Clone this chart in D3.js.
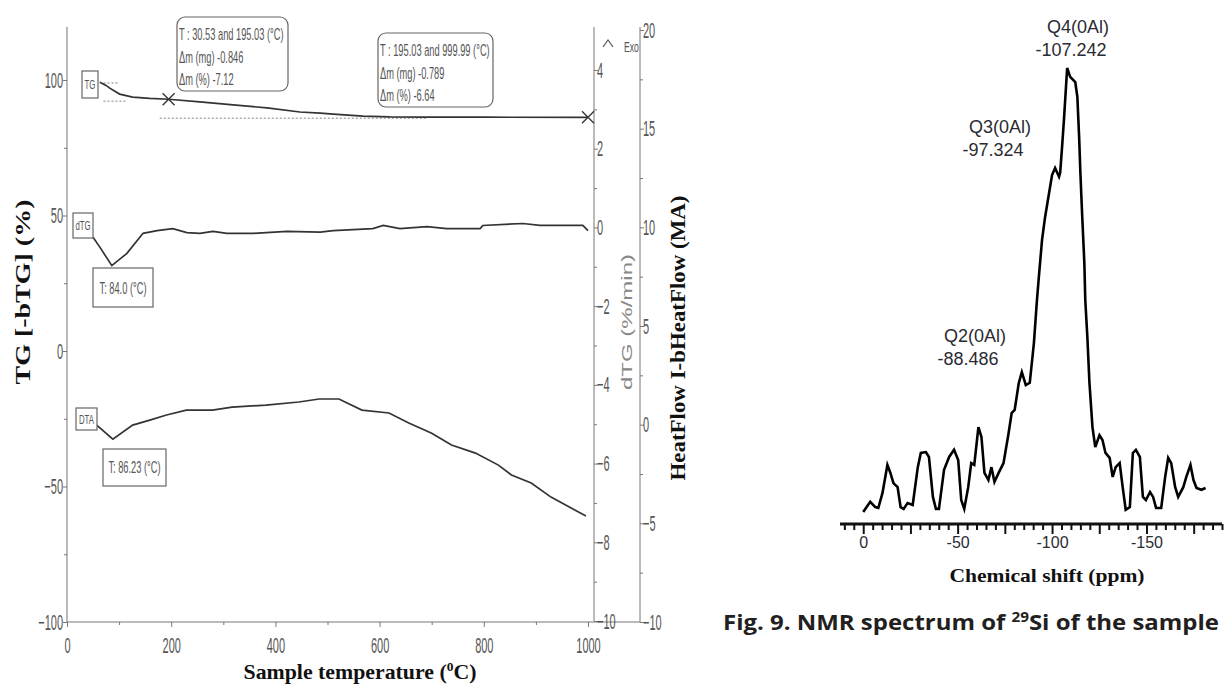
<!DOCTYPE html>
<html lang="en">
<head>
<meta charset="UTF-8" />
<title>TGA / DTA and 29Si NMR</title>
<style>
  body { margin: 0; background: #fff; }
  svg { display: block; }
  .tga text { font-family: "Liberation Sans", Arial, sans-serif; fill: #555; }
  .tga .domain, .tga .tick line { stroke: #777; }
  .curve { fill: none; stroke: #333; stroke-width: 1.7; }
  .nmr text { font-family: "Liberation Sans", Arial, sans-serif; fill: #2b2b33; }
  svg text.bold-serif { font-family: "Liberation Serif", "Times New Roman", serif; font-weight: bold; fill: #111; }
  svg text.caption { font-family: "Open Sans", "Noto Sans", sans-serif; font-weight: 700; fill: #231f20; }
</style>
</head>
<body>
<svg width="1224" height="684"></svg>
<script src="https://d3js.org/d3.v7.min.js"></script>
<script>
// ---- TGA data (temperature in °C) ----
const tgTemp = [63, 75, 82, 101, 126, 159, 195, 255, 319, 384, 447, 486, 511, 568, 620, 691, 800, 1000];
const tgVal  = [99.2, 98.0, 97.0, 94.8, 93.7, 93.2, 92.9, 91.9, 90.8, 89.7, 88.2, 87.8, 87.4, 86.7, 86.4, 86.3, 86.27, 86.24];

const dtgTemp = [50, 63, 86, 115, 146, 173, 203, 230, 255, 280, 307, 357, 422, 486, 511, 587, 607, 639, 691, 729, 793, 798, 875, 908, 990, 1000];
const dtgVal  = [-0.25, -0.5, -0.97, -0.66, -0.15, -0.08, -0.03, -0.13, -0.15, -0.1, -0.15, -0.15, -0.1, -0.12, -0.08, -0.03, 0.05, -0.03, 0.02, -0.03, -0.03, 0.05, 0.1, 0.05, 0.05, -0.08];

const dtaTemp = [57, 88, 126, 159, 191, 229, 279, 317, 382, 445, 484, 522, 566, 618, 656, 700, 738, 784, 828, 853, 891, 929, 996];
const dtaVal  = [-0.02, -0.73, -0.02, 0.23, 0.49, 0.74, 0.74, 0.89, 0.99, 1.15, 1.30, 1.30, 0.74, 0.59, 0.08, -0.43, -1.03, -1.44, -2.05, -2.55, -2.96, -3.67, -4.63];

const tgTicks = [100, 50, 0, -50, -100];
const dtgTicks = [4, 2, 0, -2, -4, -6, -8, -10];
const hfTicks = [20, 15, 10, 5, 0, -5, -10];
const tempTicks = [0, 200, 400, 600, 800, 1000];

const step1 = ["T : 30.53 and 195.03 (°C)", "Δm (mg) -0.846", "Δm (%) -7.12"];
const step2 = ["T : 195.03 and 999.99 (°C)", "Δm (mg) -0.789", "Δm (%) -6.64"];
const crossPoints = [[195.03, 92.88], [999.99, 86.24]];

// ---- NMR data (ppm, relative intensity) ----
const nmrPpm = [0, -3.7, -6.4, -8.0, -10.2, -12.8, -14.4, -16.0, -18.2, -19.8, -21.4, -23.5, -26.2, -28.9, -30.5, -33.2, -34.8, -36.9, -38.5, -40.1,
  -42.8, -45.5, -48.1, -50.3, -51.9, -53.5, -55.6, -57.2, -58.8, -61.0, -62.6, -64.2, -66.3, -67.9, -69.5, -71.7, -74.3, -77.0, -78.6, -80.2,
  -82.4, -84.0, -86.1, -88.2, -90.4, -92.0, -93.0, -94.7, -96.3, -98.4, -100.0, -101.6, -103.7, -104.3, -105.3, -106.4, -108.0, -109.6, -112.3, -113.4,
  -114.4, -115.0, -116.0, -117.1, -117.6, -118.7, -119.8, -121.4, -122.9, -125.1, -126.7, -128.3, -130.5, -132.1, -133.7, -135.8, -137.4, -139.0, -141.2, -142.8,
  -144.4, -146.5, -148.1, -149.7, -151.9, -153.5, -155.1, -157.8, -159.9, -161.5, -163.1, -165.2, -166.8, -169.5, -171.1, -173.3, -174.9, -176.5, -179.1, -181.3];
const nmrInt = [0, 2.3, 1.1, 0.9, 4.3, 10.6, 8.8, 6.5, 5.6, 1.1, 0.7, 2.0, 1.6, 10.1, 13.3, 13.5, 12.4, 3.4, 0.7, 0.7,
  9.5, 12.4, 14.0, 11.7, 2.7, 0.7, 5.6, 11.0, 10.6, 19.1, 16.9, 8.8, 7.2, 10.1, 6.8, 8.8, 11.0, 17.8, 22.3, 23.0,
  29.1, 31.5, 28.6, 29.1, 38.1, 47.7, 52.9, 61.3, 66.4, 71.8, 75.9, 77.5, 75.5, 76.4, 82.2, 89.0, 100, 98.0, 96.8, 93.5,
  83.8, 76.4, 66.4, 56.1, 47.7, 39.4, 29.1, 19.1, 14.6, 17.3, 16.2, 13.3, 12.2, 7.9, 10.1, 11.0, 5.6, 0.5, 1.1, 13.3,
  14.0, 12.4, 3.4, 2.7, 4.5, 3.4, 0.9, 0.9, 7.9, 12.2, 11.0, 5.6, 3.4, 5.6, 7.9, 10.6, 7.2, 5.4, 5.0, 5.4];
const nmrTickLabels = [0, -50, -100, -150];
const peakLabels = [
  { name: "Q4(0Al)", shift: "-107.242", x: 1078, y: 33 },
  { name: "Q3(0Al)", shift: "-97.324", x: 1000, y: 133 },
  { name: "Q2(0Al)", shift: "-88.486", x: 975, y: 342 }
];

const svg = d3.select("svg");

// ================= TGA / DTA panel =================
const tga = svg.append("g").attr("class", "tga");
const x = d3.scaleLinear().domain([0, 1000]).range([67, 588]);
const yTG = d3.scaleLinear().domain([-100, 100]).range([622, 80]);
const yDTG = d3.scaleLinear().domain([-10, 4]).range([621, 70]);
const yHF = d3.scaleLinear().domain([-10, 20]).range([622, 30]);

const NARROW = 0.5;
function squeeze(sel) {
  sel.selectAll(".tick text").attr("transform", `scale(${NARROW},1)`).attr("font-size", 22);
}

// left axis with minor ticks
tga.append("g").attr("transform", "translate(67,0)")
  .call(d3.axisLeft(yTG).tickValues(d3.range(-75, 100, 50)).tickSize(3).tickFormat(""))
  .select(".domain").remove();
const gl = tga.append("g").attr("transform", "translate(67,0)")
  .call(d3.axisLeft(yTG).tickValues(tgTicks).tickSize(4).tickPadding(4).tickFormat(d3.format("d")));
gl.select(".domain").attr("d", `M0,${yTG(119.6)}V${yTG(-100)}`);
squeeze(gl);

// bottom axis
tga.append("g").attr("transform", "translate(0,622)")
  .call(d3.axisBottom(x).tickValues(d3.range(100, 1000, 200)).tickSize(3).tickFormat(""))
  .select(".domain").remove();
const gb = tga.append("g").attr("transform", "translate(0,622)")
  .call(d3.axisBottom(x).tickValues(tempTicks).tickSize(5).tickPadding(10).tickFormat(d3.format("d")));
gb.select(".domain").attr("d", "M67,0H640");
squeeze(gb);

// dTG axis
tga.append("g").attr("transform", "translate(594,0)")
  .call(d3.axisRight(yDTG).tickValues(d3.range(-9, 5, 2)).tickSize(3).tickFormat(""))
  .select(".domain").remove();
const gd = tga.append("g").attr("transform", "translate(594,0)")
  .call(d3.axisRight(yDTG).tickValues(dtgTicks).tickSize(4).tickPadding(2).tickFormat(d3.format("d")));
gd.select(".domain").attr("d", `M0,27V${yDTG(-10)}`);
squeeze(gd);

// HeatFlow axis
tga.append("g").attr("transform", "translate(640,0)")
  .call(d3.axisRight(yHF).tickValues(d3.range(-7.5, 20, 5)).tickSize(3).tickFormat(""))
  .select(".domain").remove();
const gh = tga.append("g").attr("transform", "translate(640,0)")
  .call(d3.axisRight(yHF).tickValues(hfTicks).tickSize(4).tickPadding(2).tickFormat(d3.format("d")));
gh.select(".domain").attr("d", `M0,27V${yHF(-10)}`);
squeeze(gh);

// dotted onset guides
const guides = [[70, 98, 99.3], [70, 115, 92.5], [178, 690, 86.3]];
tga.selectAll("line.guide").data(guides).join("line")
  .attr("x1", d => x(d[0])).attr("x2", d => x(d[1]))
  .attr("y1", d => yTG(d[2]) + 1).attr("y2", d => yTG(d[2]) + 1)
  .attr("stroke", "#aaa").attr("stroke-width", 1.5).attr("stroke-dasharray", "2,2");

// curves
const tgLine = d3.line().x((d, i) => x(tgTemp[i])).y(d => yTG(d));
const dtgLine = d3.line().x((d, i) => x(dtgTemp[i])).y(d => yDTG(d));
const dtaLine = d3.line().x((d, i) => x(dtaTemp[i])).y(d => yHF(d));
tga.append("path").attr("class", "curve").attr("d", tgLine(tgVal));
tga.append("path").attr("class", "curve").attr("d", dtgLine(dtgVal));
tga.append("path").attr("class", "curve").attr("d", dtaLine(dtaVal));

// cross markers
crossPoints.forEach(p => {
  const cx = x(p[0]), cy = yTG(p[1]);
  tga.append("path").attr("d", `M${cx - 6},${cy - 6}L${cx + 6},${cy + 6}M${cx - 6},${cy + 6}L${cx + 6},${cy - 6}`)
    .attr("stroke", "#333").attr("stroke-width", 1.3);
});

function narrow(g, px, py, str, size, anchor, sx) {
  return g.append("text")
    .attr("transform", `translate(${px},${py}) scale(${sx || NARROW},1)`)
    .attr("text-anchor", anchor || "start")
    .attr("font-size", size)
    .text(str);
}

function box(g, x0, y0, w, h, r) {
  g.append("rect").attr("x", x0).attr("y", y0).attr("width", w).attr("height", h)
    .attr("rx", r || 0).attr("fill", "#fff").attr("stroke", "#666").attr("stroke-width", 1.2);
}

// step annotation boxes
box(tga, 177, 17, 111, 74, 8);
step1.forEach((s, i) => narrow(tga, 179, 40 + i * 22.5, s, 16, "start", 0.58));
box(tga, 378, 33, 115, 74, 8);
step2.forEach((s, i) => narrow(tga, 380, 56 + i * 22.5, s, 16, "start", 0.58));

// curve tags
box(tga, 82, 71, 16, 27);
narrow(tga, 90, 89, "TG", 13, "middle", 0.6);
box(tga, 73, 213, 20, 25);
narrow(tga, 83, 230, "dTG", 13, "middle", 0.6);
box(tga, 76, 408, 21, 22);
narrow(tga, 86.5, 424, "DTA", 13, "middle", 0.6);

// peak temperature boxes
box(tga, 93, 268, 60, 39);
narrow(tga, 123, 294, "T: 84.0 (°C)", 16, "middle", 0.58);
box(tga, 103, 449, 63, 37);
narrow(tga, 134.5, 473, "T: 86.23 (°C)", 16, "middle", 0.58);

// Exo marker
tga.append("path").attr("d", "M603,47L608,40L613,47").attr("fill", "none").attr("stroke", "#555").attr("stroke-width", 1.2);
narrow(tga, 624, 52, "Exo", 14, "start", 0.62);

// axis titles
tga.append("text").attr("class", "bold-serif").attr("font-size", 22)
  .attr("transform", "translate(30,292) rotate(-90)").attr("text-anchor", "middle")
  .attr("textLength", 185).attr("lengthAdjust", "spacingAndGlyphs")
  .text("TG [-bTG] (%)");
tga.append("text").attr("class", "bold-serif").attr("font-size", 21)
  .attr("transform", "translate(685,338) rotate(-90)").attr("text-anchor", "middle")
  .attr("textLength", 285).attr("lengthAdjust", "spacingAndGlyphs")
  .text("HeatFlow I-bHeatFlow (MA)");
tga.append("text").attr("font-size", 15).style("fill", "#888")
  .attr("transform", "translate(632,322) rotate(-90)").attr("text-anchor", "middle")
  .attr("textLength", 136).attr("lengthAdjust", "spacingAndGlyphs")
  .text("dTG (%/min)");
const xt = tga.append("text").attr("class", "bold-serif").attr("font-size", 21)
  .attr("x", 360).attr("y", 679).attr("text-anchor", "middle")
  .attr("textLength", 233).attr("lengthAdjust", "spacingAndGlyphs");
xt.append("tspan").text("Sample temperature (");
xt.append("tspan").attr("font-size", 13).attr("dy", -8).text("0");
xt.append("tspan").attr("dy", 8).text("C)");

// ================= NMR panel =================
const nmr = svg.append("g").attr("class", "nmr");
const xp = d3.scaleLinear().domain([12.3, -190]).range([840, 1222]);
const yI = d3.scaleLinear().domain([0, 100]).range([512, 68]);

const ga = nmr.append("g").attr("transform", "translate(0,524)")
  .call(d3.axisBottom(xp).tickValues(d3.range(10, -191, -5).filter(v => v % 25 !== 0)).tickSize(6).tickFormat(""));
ga.select(".domain").attr("d", "M840,0H1222").attr("stroke", "#111").attr("stroke-width", 3);
ga.selectAll(".tick line").attr("stroke", "#111").attr("stroke-width", 2);
const gm = nmr.append("g").attr("transform", "translate(0,524)")
  .call(d3.axisBottom(xp).tickValues(d3.range(0, -191, -25)).tickSize(10).tickFormat(d => nmrTickLabels.includes(d) ? d : ""));
gm.select(".domain").remove();
gm.selectAll(".tick line").attr("stroke", "#111").attr("stroke-width", 2);
gm.selectAll(".tick text").attr("font-size", 16).attr("y", 13);

const nmrLine = d3.line().x((d, i) => xp(nmrPpm[i])).y(d => yI(d));
nmr.append("path").attr("d", nmrLine(nmrInt)).attr("fill", "none")
  .attr("stroke", "#000").attr("stroke-width", 2.6).attr("stroke-linejoin", "miter");

peakLabels.forEach(p => {
  nmr.append("text").attr("x", p.x).attr("y", p.y).attr("text-anchor", "middle").attr("font-size", 18).text(p.name);
  nmr.append("text").attr("x", p.x - 7).attr("y", p.y + 23).attr("text-anchor", "middle").attr("font-size", 18).text(p.shift);
});

nmr.append("text").attr("class", "bold-serif").attr("font-size", 19)
  .attr("x", 1047).attr("y", 582).attr("text-anchor", "middle")
  .attr("textLength", 195).attr("lengthAdjust", "spacingAndGlyphs")
  .text("Chemical shift (ppm)");

const cap = nmr.append("text").attr("class", "caption").attr("x", 723).attr("y", 630)
  .attr("font-size", 22)
  .attr("textLength", 496).attr("lengthAdjust", "spacingAndGlyphs");
cap.append("tspan").text("Fig. 9. NMR spectrum of ");
cap.append("tspan").attr("font-size", 14).attr("dy", -8).text("29");
cap.append("tspan").attr("dy", 8).text("Si of the sample");
</script>
</body>
</html>
